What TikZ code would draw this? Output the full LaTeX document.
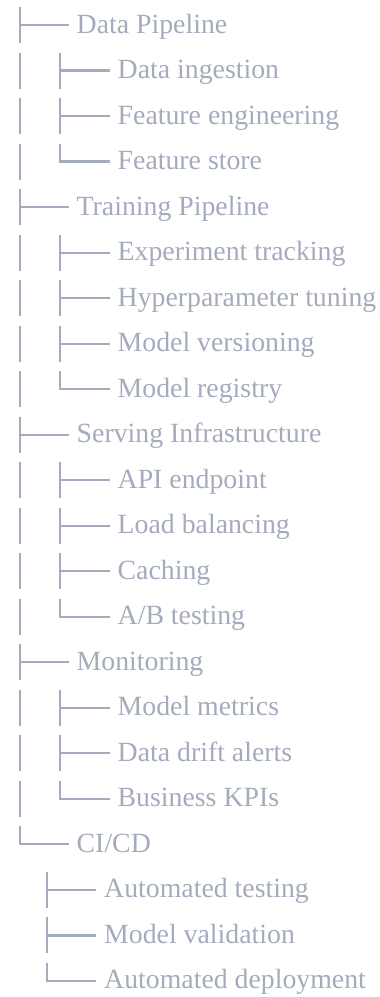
\documentclass[tikz,border=0pt]{standalone}
\usepackage{fontspec}
\setmainfont{Liberation Serif}
\definecolor{tc}{RGB}{163,171,188}
\tikzset{
  treeline/.style={draw=tc, line width=2.2pt},
  lbl/.style={text=tc, font=\fontsize{27.8}{32}\selectfont, inner sep=0pt, anchor=base west}
}
\newcommand\tbranch[2]{%
  \draw[treeline] ([yshift=18pt]#1) -- ([yshift=-18pt]#1);
  \draw[treeline] (#1) -- ([xshift=-8pt]#2.base west |- #1);}
\newcommand\tlast[2]{%
  \draw[treeline] ([yshift=18pt]#1) -- (#1);
  \draw[treeline] ([xshift=-1.1pt]#1) -- ([xshift=-8pt]#2.base west |- #1);}
\begin{document}
\begin{tikzpicture}[x=1pt,y=-1pt]
\useasboundingbox (0,0) rectangle (380,997);
% level 1 nodes
\node[lbl] (n0)  at (76.5, 33)     {Data Pipeline};
\node[lbl] (n4)  at (76.5, 215.08) {Training Pipeline};
\node[lbl] (n9)  at (76.5, 442.68) {Serving Infrastructure};
\node[lbl] (n14) at (76.5, 670.28) {Monitoring};
\node[lbl] (n18) at (76.5, 852.36) {CI/CD};
% level 2 nodes
\node[lbl] (n1)  at (117.5, 78.52)  {Data ingestion};
\node[lbl] (n2)  at (117.5, 124.04) {Feature engineering};
\node[lbl] (n3)  at (117.5, 169.56) {Feature store};
\node[lbl] (n5)  at (117.5, 260.6)  {Experiment tracking};
\node[lbl] (n6)  at (117.5, 306.12) {Hyperparameter tuning};
\node[lbl] (n7)  at (117.5, 351.64) {Model versioning};
\node[lbl] (n8)  at (117.5, 397.16) {Model registry};
\node[lbl] (n10) at (117.5, 488.2)  {API endpoint};
\node[lbl] (n11) at (117.5, 533.72) {Load balancing};
\node[lbl] (n12) at (117.5, 579.24) {Caching};
\node[lbl] (n13) at (117.5, 624.76) {A/B testing};
\node[lbl] (n15) at (117.5, 715.8)  {Model metrics};
\node[lbl] (n16) at (117.5, 761.32) {Data drift alerts};
\node[lbl] (n17) at (117.5, 806.84) {Business KPIs};
\node[lbl] (n19) at (104, 897.88) {Automated testing};
\node[lbl] (n20) at (104, 943.4)  {Model validation};
\node[lbl] (n21) at (104, 988.92) {Automated deployment};
% joints
\coordinate (j0)  at (20, 25);
\coordinate (j4)  at (20, 207.08);
\coordinate (j9)  at (20, 434.68);
\coordinate (j14) at (20, 662.28);
\coordinate (j18) at (20, 844.36);
\coordinate (j1)  at (60, 70.52);
\coordinate (j2)  at (60, 116.04);
\coordinate (j3)  at (60, 161.56);
\coordinate (j5)  at (60, 252.6);
\coordinate (j6)  at (60, 298.12);
\coordinate (j7)  at (60, 343.64);
\coordinate (j8)  at (60, 389.16);
\coordinate (j10) at (60, 480.2);
\coordinate (j11) at (60, 525.72);
\coordinate (j12) at (60, 571.24);
\coordinate (j13) at (60, 616.76);
\coordinate (j15) at (60, 707.8);
\coordinate (j16) at (60, 753.32);
\coordinate (j17) at (60, 798.84);
\coordinate (j19) at (47, 889.88);
\coordinate (j20) at (47, 935.4);
\coordinate (j21) at (47, 980.92);
% continuation bars
\foreach \c in {j1,j2,j3,j5,j6,j7,j8,j10,j11,j12,j13,j15,j16,j17}{
  \draw[treeline] ([xshift=-40pt,yshift=18pt]\c) -- ([xshift=-40pt,yshift=-18pt]\c);
}
% branches
\tbranch{j0}{n0}
\tbranch{j4}{n4}
\tbranch{j9}{n9}
\tbranch{j14}{n14}
\tlast{j18}{n18}
\tbranch{j1}{n1}
\tbranch{j2}{n2}
\tlast{j3}{n3}
\tbranch{j5}{n5}
\tbranch{j6}{n6}
\tbranch{j7}{n7}
\tlast{j8}{n8}
\tbranch{j10}{n10}
\tbranch{j11}{n11}
\tbranch{j12}{n12}
\tlast{j13}{n13}
\tbranch{j15}{n15}
\tbranch{j16}{n16}
\tlast{j17}{n17}
\tbranch{j19}{n19}
\tbranch{j20}{n20}
\tlast{j21}{n21}
\end{tikzpicture}
\end{document}
